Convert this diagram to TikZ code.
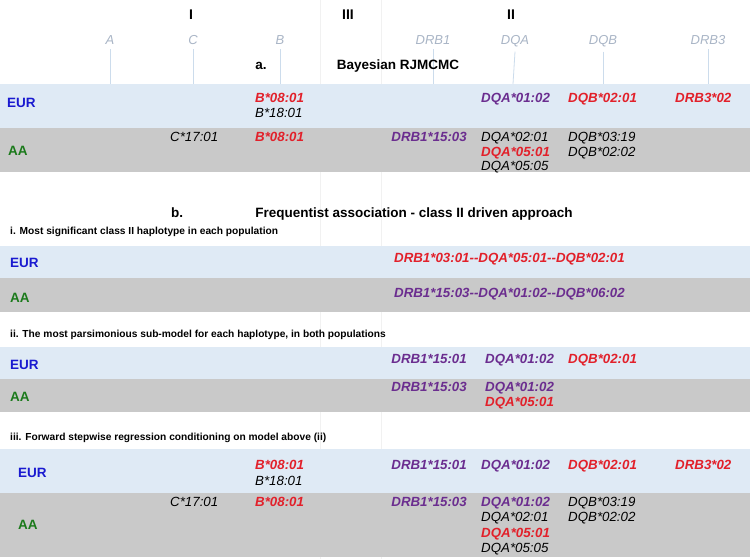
\documentclass[tikz,border=0pt]{standalone}
\usepackage{fontspec}
\setmainfont{Liberation Sans}
\definecolor{bandblue}{HTML}{DFEAF5}
\definecolor{bandgray}{HTML}{C9C9C9}
\definecolor{alred}{HTML}{E2202A}
\definecolor{alpurple}{HTML}{6B2D8F}
\definecolor{eurblue}{HTML}{1A1AD0}
\definecolor{aagreen}{HTML}{1B7A1B}
\definecolor{genegray}{HTML}{A9B5C6}
\definecolor{geneline}{HTML}{CCDCEC}
\definecolor{faint}{HTML}{F1F1F1}
\tikzset{
  txt/.style={inner sep=0pt, anchor=base west},
  eur/.style={txt, font=\bfseries\fontsize{13.5}{15}\selectfont, text=eurblue},
  aa/.style={txt, font=\bfseries\fontsize{13.5}{15}\selectfont, text=aagreen},
  alb/.style={txt, font=\itshape\fontsize{13.3}{15}\selectfont, text=black},
  alr/.style={txt, font=\bfseries\itshape\fontsize{13.3}{15}\selectfont, text=alred},
  alp/.style={txt, font=\bfseries\itshape\fontsize{13.3}{15}\selectfont, text=alpurple},
  gene/.style={inner sep=0pt, anchor=base, font=\itshape\fontsize{13}{15}\selectfont, text=genegray},
  roman/.style={inner sep=0pt, anchor=base, font=\bfseries\fontsize{14}{16}\selectfont},
  title/.style={inner sep=0pt, anchor=base, font=\bfseries\fontsize{13.5}{15}\selectfont},
  subhead/.style={txt, font=\bfseries\fontsize{10.2}{12}\selectfont},
  eurband/.style={fill=bandblue, draw=none},
  aaband/.style={fill=bandgray, draw=none},
  gline/.style={draw=geneline, line width=0.8pt},
  fline/.style={draw=faint, line width=0.8pt}
}
\begin{document}
\begin{tikzpicture}[x=1pt,y=-1pt]
\useasboundingbox (0,0) rectangle (750,559);
\fill[white] (0,0) rectangle (750,559);
% faint background verticals
\coordinate (f1t) at (320,0); \coordinate (f1b) at (320,559);
\coordinate (f2t) at (381,0); \coordinate (f2b) at (381,559);
\draw[fline] (f1t) -- (f1b);
\draw[fline] (f2t) -- (f2b);
% bands
\path[eurband] (0,84) rectangle (750,128);
\path[aaband] (0,128) rectangle (750,172);
\path[eurband] (0,246) rectangle (750,278);
\path[aaband] (0,278) rectangle (750,312);
\path[eurband] (0,347) rectangle (750,379);
\path[aaband] (0,379) rectangle (750,412);
\path[eurband] (0,449) rectangle (750,493);
\path[aaband] (0,493) rectangle (750,557);
% roman numerals
\node[roman] (rI) at (191,20) {I};
\node[roman] (rIII) at (348,20) {III};
\node[roman] (rII) at (511,20) {II};
% gene labels
\node[gene] (gA) at (110,45) {A};
\node[gene] (gC) at (193,45) {C};
\node[gene] (gB) at (280,45) {B};
\node[gene] (gDRB1) at (433,45) {DRB1};
\node[gene] (gDQA) at (515,45) {DQA};
\node[gene] (gDQB) at (603,45) {DQB};
\node[gene] (gDRB3) at (708,45) {DRB3};
\coordinate (eA) at (110,84);
\coordinate (eC) at (193,84);
\coordinate (eB) at (280,84);
\coordinate (eDRB1) at (433,84);
\coordinate (eDQA) at (513,84);
\coordinate (eDQB) at (603,84);
\coordinate (eDRB3) at (708,84);
\draw[gline] ([yshift=-4pt]gA.south) -- (eA);
\draw[gline] ([yshift=-4pt]gC.south) -- (eC);
\draw[gline] ([yshift=-4pt]gB.south) -- (eB);
\draw[gline] ([yshift=-4pt]gDRB1.south) -- (eDRB1);
\draw[gline] ([yshift=-4pt]gDQA.south) -- (eDQA);
\draw[gline] ([yshift=-4pt]gDQB.south) -- (eDQB);
\draw[gline] ([yshift=-4pt]gDRB3.south) -- (eDRB3);
% section a
\node[title] (alab) at (261,70) {a.};
\node[title] (atitle) at (398,70) {Bayesian RJMCMC};
\node[eur] (aeur) at (7,108) {EUR};
\node[alr] (aeB1) at (255,103) {B*08:01};
\node[alb] (aeB2) at (255,118) {B*18:01};
\node[alp] (aeQA) at (481,103) {DQA*01:02};
\node[alr] (aeQB) at (568,103) {DQB*02:01};
\node[alr] (aeR3) at (675,103) {DRB3*02};
\node[aa] (aaa) at (8,156) {AA};
\node[alb] (aaC) at (170,142) {C*17:01};
\node[alr] (aaB) at (255,142) {B*08:01};
\node[alp, anchor=base east] (aaR1) at (467,142) {DRB1*15:03};
\node[alb] (aaQA1) at (481,142) {DQA*02:01};
\node[alr] (aaQA2) at (481,156.5) {DQA*05:01};
\node[alb] (aaQA3) at (481,171) {DQA*05:05};
\node[alb] (aaQB1) at (568,142) {DQB*03:19};
\node[alb] (aaQB2) at (568,156.5) {DQB*02:02};
% section b
\node[title] (blab) at (177,218) {b.};
\node[title] (btitle) at (414,218) {Frequentist association - class II driven approach};
\node[subhead] (bi) at (10,234.5) {i. Most significant class II haplotype in each population};
\node[eur] (bieur) at (10,267) {EUR};
\node[alr, anchor=base east] (bihe) at (625,262) {DRB1*03:01{-}{-}DQA*05:01{-}{-}DQB*02:01};
\node[aa] (biaa) at (10,302) {AA};
\node[alp, anchor=base east] (biha) at (625,297) {DRB1*15:03{-}{-}DQA*01:02{-}{-}DQB*06:02};
% ii
\node[subhead] (bii) at (10,337.5) {ii. The most parsimonious sub-model for each haplotype, in both populations};
\node[eur] (iieur) at (10,369) {EUR};
\node[alp, anchor=base east] (iieR1) at (467,363) {DRB1*15:01};
\node[alp] (iieQA) at (485,363) {DQA*01:02};
\node[alr] (iieQB) at (568,363) {DQB*02:01};
\node[aa] (iiaa) at (10,401) {AA};
\node[alp, anchor=base east] (iiaR1) at (467,391) {DRB1*15:03};
\node[alp] (iiaQA1) at (485,391) {DQA*01:02};
\node[alr] (iiaQA2) at (485,406) {DQA*05:01};
% iii
\node[subhead] (biii) at (10,440.5) {iii. Forward stepwise regression conditioning on model above (ii)};
\node[eur] (iiieur) at (18,477) {EUR};
\node[alr] (iiieB1) at (255,469) {B*08:01};
\node[alb] (iiieB2) at (255,485) {B*18:01};
\node[alp, anchor=base east] (iiieR1) at (467,469) {DRB1*15:01};
\node[alp] (iiieQA) at (481,469) {DQA*01:02};
\node[alr] (iiieQB) at (568,469) {DQB*02:01};
\node[alr] (iiieR3) at (675,469) {DRB3*02};
\node[aa] (iiiaa) at (18,529) {AA};
\node[alb] (iiiaC) at (170,506) {C*17:01};
\node[alr] (iiiaB) at (255,506) {B*08:01};
\node[alp, anchor=base east] (iiiaR1) at (467,506) {DRB1*15:03};
\node[alp] (iiiaQA1) at (481,506) {DQA*01:02};
\node[alb] (iiiaQA2) at (481,521.5) {DQA*02:01};
\node[alr] (iiiaQA3) at (481,537) {DQA*05:01};
\node[alb] (iiiaQA4) at (481,552) {DQA*05:05};
\node[alb] (iiiaQB1) at (568,506) {DQB*03:19};
\node[alb] (iiiaQB2) at (568,521.5) {DQB*02:02};
\end{tikzpicture}
\end{document}
